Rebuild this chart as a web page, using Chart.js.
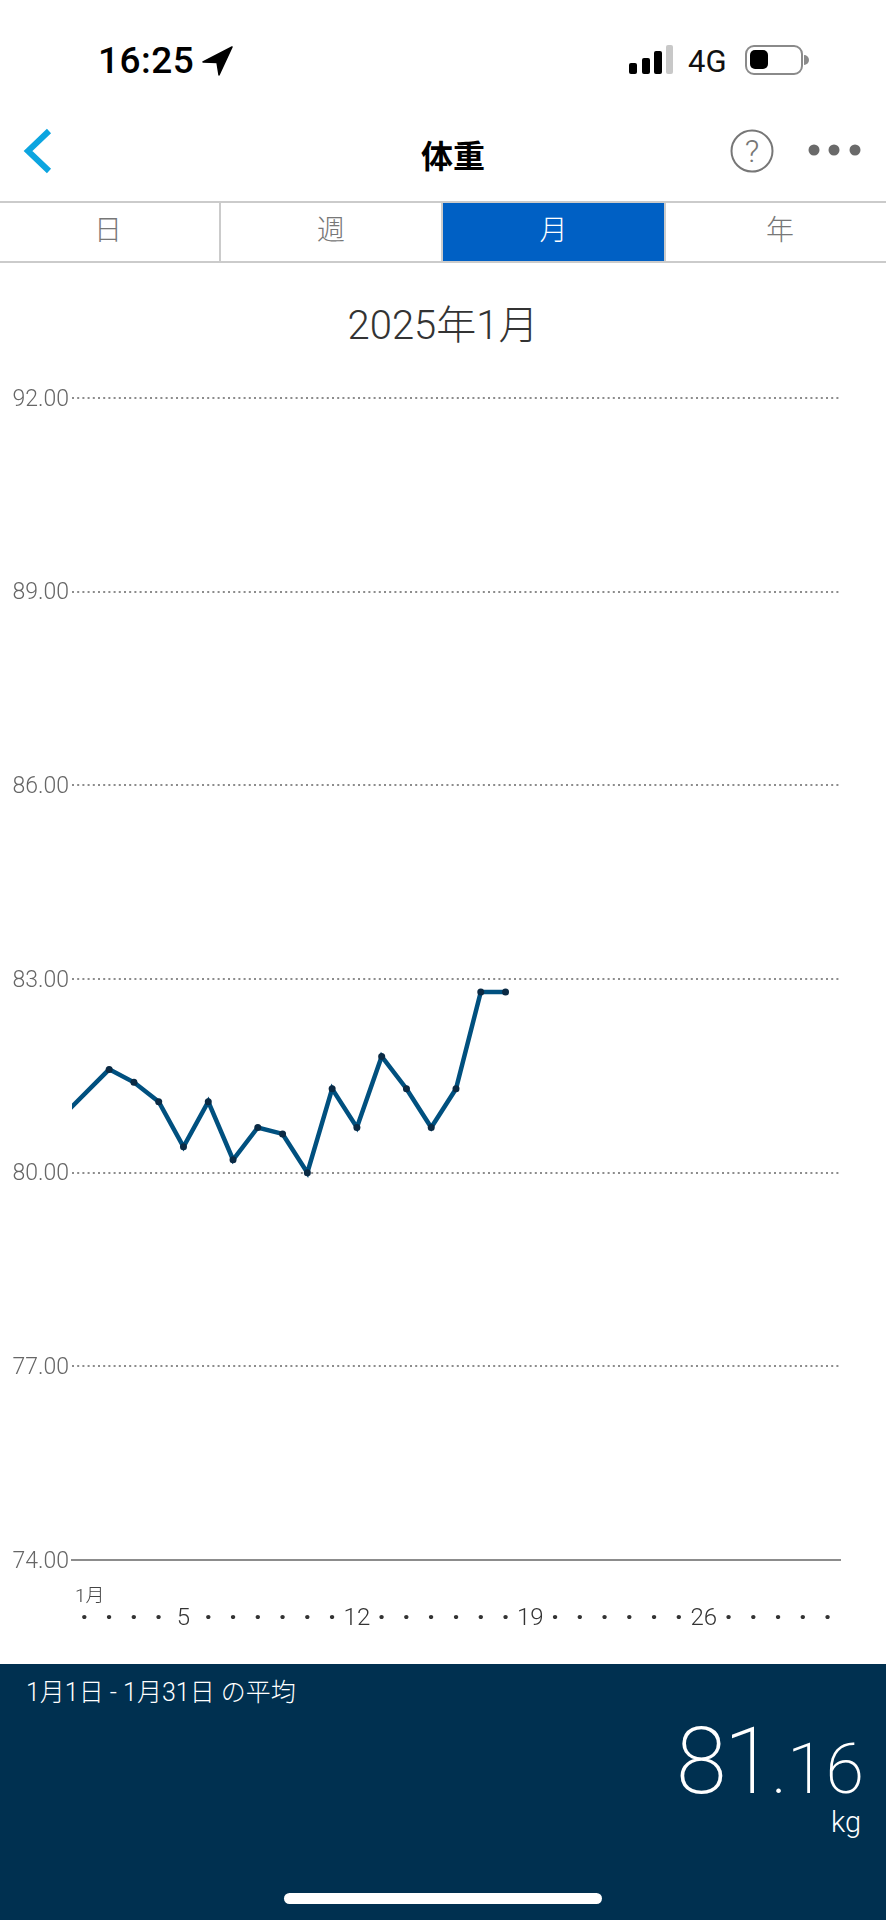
<!DOCTYPE html>
<html lang="ja">
<head>
<meta charset="utf-8">
<title>体重</title>
<script src="https://cdn.jsdelivr.net/npm/chart.js@4"></script>
<style>
  html, body { margin: 0; padding: 0; background: #fff; }
  body { position: relative; width: 886px; height: 1920px; overflow: hidden; font-family: Roboto, "Noto Sans CJK JP", sans-serif; }
  .abs { position: absolute; white-space: nowrap; line-height: 1; }
  .cjk { font-family: Roboto, "Noto Sans CJK JP", sans-serif; }
  #chart-wrap { position: absolute; left: 0; top: 380px; width: 886px; height: 1280px; }
  .tab { position: absolute; top: 203px; height: 58px; line-height: 56px; text-align: center; font-size: 28px; font-weight: 300; color: #777; }
  #panel { position: absolute; left: 0; top: 1664px; width: 886px; height: 256px; background: #003050; }
</style>
</head>
<body>
  <!-- status bar -->
  <div class="abs" style="left:98px;top:42px;font-size:37px;font-weight:500;color:#000;letter-spacing:0.5px">16:25</div>
  <svg class="abs" style="left:202px;top:46px" width="32" height="30" viewBox="0 0 32 30">
    <path d="M30 1 L1 16 L15 16.5 L17 29 Z" fill="#000" stroke="#000" stroke-width="1.5" stroke-linejoin="round"/>
  </svg>
  <svg class="abs" style="left:629px;top:44px" width="46" height="32" viewBox="0 0 46 32">
    <rect x="0" y="19" width="8" height="11" rx="2" fill="#000"/>
    <rect x="13" y="14" width="8" height="16" rx="2" fill="#000"/>
    <rect x="25" y="7" width="8" height="23" rx="2" fill="#000"/>
    <rect x="37" y="1" width="7" height="29" rx="2" fill="#c8c8c8"/>
  </svg>
  <div class="abs" style="left:688px;top:46px;font-size:31px;color:#111">4G</div>
  <svg class="abs" style="left:744px;top:44px" width="66" height="32" viewBox="0 0 66 32">
    <rect x="2" y="2" width="56" height="28" rx="8" fill="none" stroke="#8a8a8a" stroke-width="2"/>
    <rect x="6" y="6" width="18" height="19" rx="5" fill="#000"/>
    <path d="M60 11 a5 5 0 0 1 0 10 Z" fill="#8a8a8a"/>
  </svg>

  <!-- nav bar -->
  <svg class="abs" style="left:22px;top:128px" width="32" height="46" viewBox="0 0 32 46">
    <path d="M27 3 L6 23 L27 43" fill="none" stroke="#0ca5e0" stroke-width="6"/>
  </svg>
  <div class="abs cjk" style="left:421px;top:141px;font-size:32px;font-weight:700;color:#000">体重</div>
  <svg class="abs" style="left:729px;top:128px" width="46" height="46" viewBox="0 0 46 46">
    <circle cx="23" cy="23" r="20.5" fill="none" stroke="#777" stroke-width="2"/>
    <text x="23" y="34" text-anchor="middle" font-size="32" font-weight="300" fill="#777" font-family="Roboto">?</text>
  </svg>
  <svg class="abs" style="left:805px;top:140px" width="60" height="20" viewBox="0 0 60 20">
    <circle cx="9" cy="10" r="5.5" fill="#6a6a6a"/>
    <circle cx="29" cy="10" r="5.5" fill="#6a6a6a"/>
    <circle cx="50" cy="10" r="5.5" fill="#6a6a6a"/>
  </svg>

  <!-- tabs -->
  <div class="abs" style="left:0;top:201px;width:886px;height:2px;background:#cbcbcb"></div>
  <div class="abs" style="left:0;top:261px;width:886px;height:2px;background:#cbcbcb"></div>
  <div class="abs" style="left:219px;top:203px;width:2px;height:58px;background:#cbcbcb"></div>
  <div class="abs" style="left:441px;top:203px;width:2px;height:58px;background:#cbcbcb"></div>
  <div class="abs" style="left:664px;top:203px;width:2px;height:58px;background:#cbcbcb"></div>
  <div class="tab" style="left:0;width:216px">日</div>
  <div class="tab" style="left:221px;width:220px">週</div>
  <div class="tab" style="left:443px;width:221px;background:#0060c4;color:#fff">月</div>
  <div class="tab" style="left:666px;width:228px;">年</div>

  <div class="abs cjk" style="left:0;width:886px;text-align:center;top:306px;font-size:40px;font-weight:300;color:#333">2025年1月</div>

  <div id="chart-wrap"><canvas id="weight-chart"></canvas></div>
  <div class="abs cjk" style="left:75px;top:1586px;font-size:19px;font-weight:300;color:#444">1月</div>

  <!-- average panel -->
  <div id="panel"></div>
  <div class="abs cjk" style="left:26px;top:1680px;font-size:25px;font-weight:300;color:#fff">1月1日 - 1月31日 の平均</div>
  <div class="abs" style="right:22px;top:1716px;color:#fff;font-weight:200"><span style="font-size:92px;letter-spacing:-3px">81</span><span style="font-size:70px">.16</span></div>
  <div class="abs" style="right:25px;top:1808px;font-size:29px;font-weight:300;color:#fff">kg</div>
  <div class="abs" style="left:284px;top:1893px;width:318px;height:11px;border-radius:6px;background:#fff"></div>

<script>
// day 0 = 31 Dec, it sits left of the axis so only its line segment shows
const days = [0, 2, 3, 4, 5, 6, 7, 8, 9, 10, 11, 12, 13, 14, 15, 16, 17, 18];
const weights = [80.83, 81.6, 81.4, 81.1, 80.4, 81.1, 80.2, 80.7, 80.6, 80.0, 81.3, 80.7, 81.8, 81.3, 80.7, 81.3, 82.8, 82.8];

const yTicks = [74, 77, 80, 83, 86, 89, 92];
const xTickDays = [1, 2, 3, 4, 5, 6, 7, 8, 9, 10, 11, 12, 13, 14, 15, 16, 17, 18, 19, 20, 21, 22, 23, 24, 25, 26, 27, 28, 29, 30, 31];
const xTickLabels = ['·', '·', '·', '·', '5', '·', '·', '·', '·', '·', '·', '12', '·', '·', '·', '·', '·', '·', '19', '·', '·', '·', '·', '·', '·', '26', '·', '·', '·', '·', '·'];

new Chart(document.getElementById('weight-chart'), {
  type: 'line',
  data: {
    datasets: [{
      data: days.map((day, i) => ({ x: day, y: weights[i] })),
      borderColor: '#00507f',
      borderWidth: 4.5,
      tension: 0,
      pointRadius: 3.5,
      pointBackgroundColor: '#0a2a44',
      pointBorderWidth: 0,
    }],
  },
  options: {
    responsive: true,
    maintainAspectRatio: false,
    animation: false,
    layout: { padding: { top: 18, right: 46, left: 0, bottom: 0 } },
    plugins: { legend: { display: false }, tooltip: { enabled: false } },
    scales: {
      x: {
        type: 'linear',
        min: 0.5,
        max: 31.5,
        afterBuildTicks: (scale) => { scale.ticks = xTickDays.map((value) => ({ value })); },
        afterFit: (scale) => { scale.height = 100; },
        grid: { display: false, drawTicks: false },
        border: { display: true, color: '#8c8c8c', width: 2 },
        ticks: {
          autoSkip: false,
          maxRotation: 0,
          padding: 45,
          color: '#333',
          font: (ctx) => ({
            family: 'Roboto',
            size: 24,
            weight: ctx.tick && ctx.tick.label === '·' ? '900' : '300',
          }),
          callback: (value) => xTickLabels[value - 1],
        },
      },
      y: {
        min: 74,
        max: 92,
        afterBuildTicks: (scale) => { scale.ticks = yTicks.map((value) => ({ value })); },
        afterFit: (scale) => { scale.width = 72; },
        grid: { color: '#8c8c8c', lineWidth: 2, drawTicks: false },
        border: { display: false, dash: [2, 3.2] },
        ticks: {
          padding: 3,
          labelOffset: 2,
          color: '#666',
          font: { family: 'Roboto', size: 23, weight: '300' },
          callback: (value) => value.toFixed(2),
        },
      },
    },
  },
});
</script>
</body>
</html>
